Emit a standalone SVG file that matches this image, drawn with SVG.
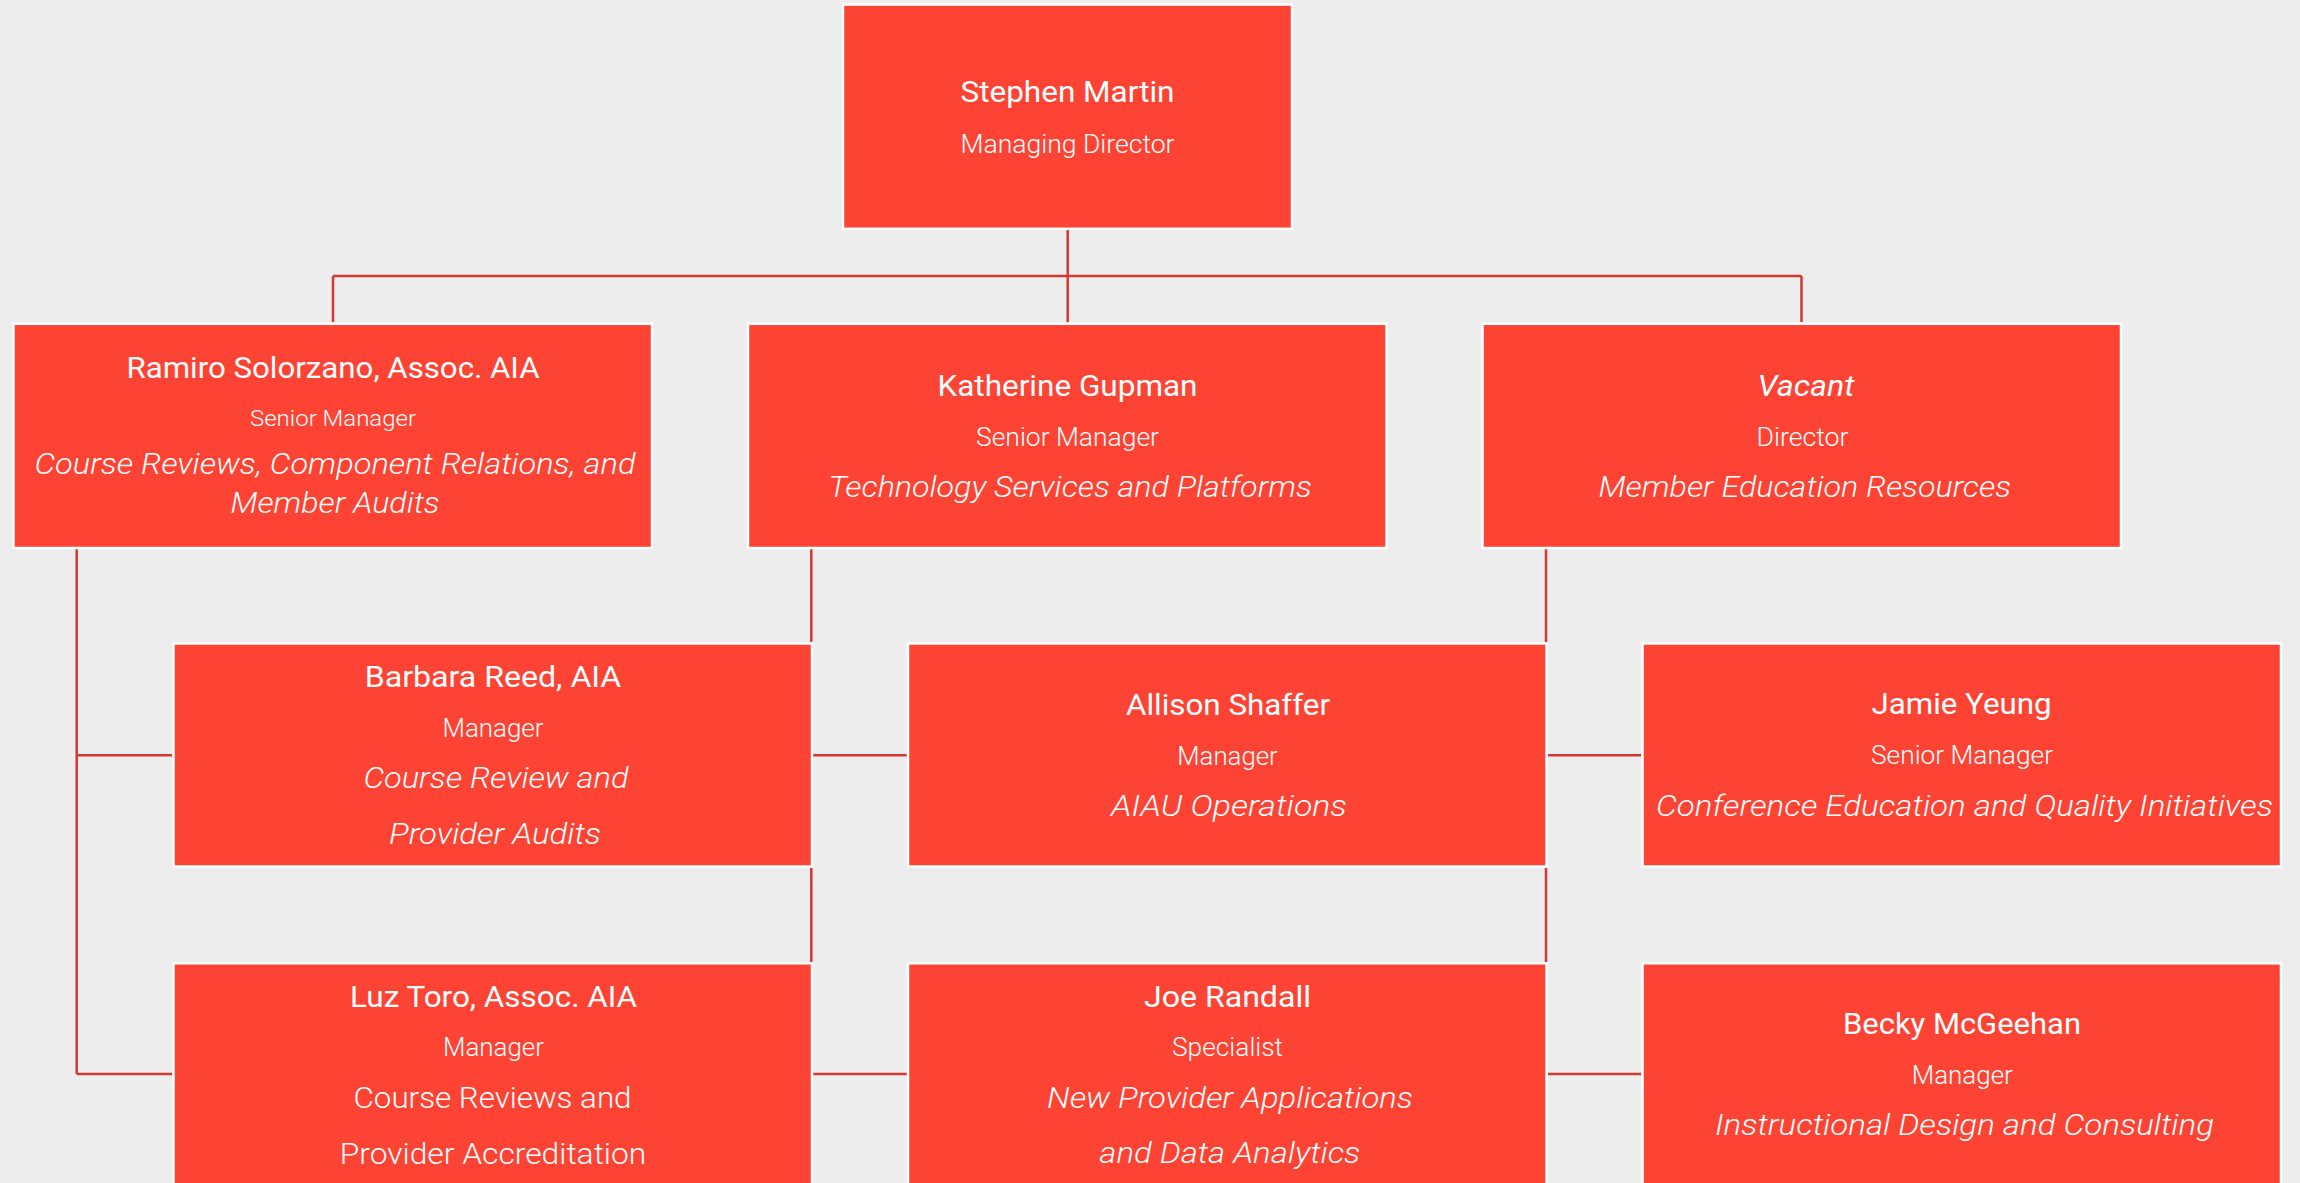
<svg xmlns="http://www.w3.org/2000/svg" width="2300" height="1183" viewBox="0 0 2300 1183">
<style>
.bg{fill:#ededed}
.box{fill:#fd4334;stroke:#ffffff;stroke-width:2.5}
.ln{stroke:#d03a30;stroke-width:2.5;fill:none}
text{fill:#ffffff;text-anchor:middle;font-family:Roboto,"Liberation Sans",Arial,sans-serif}
.nm{font-size:30px;font-weight:400}
.tt{font-size:25px;font-weight:300}
.ts{font-size:22px;font-weight:300}
.dp{font-size:30px;font-weight:300;font-style:italic}
.dn{font-size:30px;font-weight:300}
.nmi{font-size:30px;font-weight:400;font-style:italic}
</style>
<rect class="bg" x="0" y="0" width="2300" height="1183"/>
<g id="connectors">
<path class="ln" d="M1067.7 230 V322 M333 276 H1801.5 M333 276 V322 M1801.5 276 V322"/>
<path class="ln" d="M76.7 549 V1074 M76.7 755.3 H172 M76.7 1074 H172"/>
<path class="ln" d="M811.3 549 V642 M811.3 868 V962 M813 755.3 H907 M813 1074 H907"/>
<path class="ln" d="M1546 549 V642 M1546 868 V962 M1548 755.3 H1641 M1548 1074 H1641"/>
</g>
<g id="stephen-martin">
<rect class="box" x="843" y="4.6" width="449" height="224.2"/>
<text class="nm" x="1067.5" y="101.7" textLength="214" lengthAdjust="spacingAndGlyphs">Stephen Martin</text>
<text class="tt" x="1067.5" y="153.3" textLength="214" lengthAdjust="spacingAndGlyphs">Managing Director</text>
</g>
<g id="ramiro-solorzano">
<rect class="box" x="13.5" y="323.8" width="638.5" height="224.2"/>
<text class="nm" x="333" y="378.3" textLength="413" lengthAdjust="spacingAndGlyphs">Ramiro Solorzano, Assoc. AIA</text>
<text class="ts" x="333" y="425.7" textLength="166" lengthAdjust="spacingAndGlyphs">Senior Manager</text>
<text class="dp" x="335" y="474" textLength="601" lengthAdjust="spacingAndGlyphs">Course Reviews, Component Relations, and</text>
<text class="dp" x="335" y="513.3" textLength="209" lengthAdjust="spacingAndGlyphs">Member Audits</text>
</g>
<g id="katherine-gupman">
<rect class="box" x="748" y="323.8" width="638.5" height="224.2"/>
<text class="nm" x="1067.5" y="396" textLength="260" lengthAdjust="spacingAndGlyphs">Katherine Gupman</text>
<text class="tt" x="1067.5" y="446" textLength="183" lengthAdjust="spacingAndGlyphs">Senior Manager</text>
<text class="dp" x="1070" y="496.7" textLength="483.5" lengthAdjust="spacingAndGlyphs">Technology Services and Platforms</text>
</g>
<g id="vacant">
<rect class="box" x="1482.5" y="323.8" width="638.5" height="224.2"/>
<text class="nmi" x="1806" y="396" textLength="97" lengthAdjust="spacingAndGlyphs">Vacant</text>
<text class="tt" x="1802.5" y="446" textLength="92" lengthAdjust="spacingAndGlyphs">Director</text>
<text class="dp" x="1804.8" y="496.7" textLength="412.5" lengthAdjust="spacingAndGlyphs">Member Education Resources</text>
</g>
<g id="barbara-reed">
<rect class="box" x="173.5" y="643.5" width="638.5" height="223"/>
<text class="nm" x="493" y="686.7" textLength="256.6" lengthAdjust="spacingAndGlyphs">Barbara Reed, AIA</text>
<text class="tt" x="493" y="736.7" textLength="101" lengthAdjust="spacingAndGlyphs">Manager</text>
<text class="dp" x="496" y="788.3" textLength="265" lengthAdjust="spacingAndGlyphs">Course Review and</text>
<text class="dp" x="495" y="844" textLength="212" lengthAdjust="spacingAndGlyphs">Provider Audits</text>
</g>
<g id="allison-shaffer">
<rect class="box" x="908" y="643.5" width="638.5" height="223"/>
<text class="nm" x="1228" y="715" textLength="204" lengthAdjust="spacingAndGlyphs">Allison Shaffer</text>
<text class="tt" x="1227.5" y="765" textLength="100.5" lengthAdjust="spacingAndGlyphs">Manager</text>
<text class="dp" x="1229" y="816" textLength="236" lengthAdjust="spacingAndGlyphs">AIAU Operations</text>
</g>
<g id="jamie-yeung">
<rect class="box" x="1642.5" y="643.5" width="638.5" height="223"/>
<text class="nm" x="1961.5" y="714.3" textLength="180" lengthAdjust="spacingAndGlyphs">Jamie Yeung</text>
<text class="tt" x="1962" y="764" textLength="182" lengthAdjust="spacingAndGlyphs">Senior Manager</text>
<text class="dp" x="1964.5" y="816" textLength="617" lengthAdjust="spacingAndGlyphs">Conference Education and Quality Initiatives</text>
</g>
<g id="luz-toro">
<rect class="box" x="173.5" y="963.3" width="638.5" height="223"/>
<text class="nm" x="493.6" y="1006.7" textLength="287" lengthAdjust="spacingAndGlyphs">Luz Toro, Assoc. AIA</text>
<text class="tt" x="493.5" y="1056" textLength="101" lengthAdjust="spacingAndGlyphs">Manager</text>
<text class="dn" x="492.5" y="1108.3" textLength="278" lengthAdjust="spacingAndGlyphs">Course Reviews and</text>
<text class="dn" x="493" y="1164" textLength="306.5" lengthAdjust="spacingAndGlyphs">Provider Accreditation</text>
</g>
<g id="joe-randall">
<rect class="box" x="908" y="963.3" width="638.5" height="223"/>
<text class="nm" x="1227.5" y="1006.7" textLength="167" lengthAdjust="spacingAndGlyphs">Joe Randall</text>
<text class="tt" x="1227.5" y="1056" textLength="111" lengthAdjust="spacingAndGlyphs">Specialist</text>
<text class="dp" x="1230" y="1107.7" textLength="366" lengthAdjust="spacingAndGlyphs">New Provider Applications</text>
<text class="dp" x="1229.8" y="1163.3" textLength="261" lengthAdjust="spacingAndGlyphs">and Data Analytics</text>
</g>
<g id="becky-mcgeehan">
<rect class="box" x="1642.5" y="963.3" width="638.5" height="223"/>
<text class="nm" x="1962" y="1034" textLength="238" lengthAdjust="spacingAndGlyphs">Becky McGeehan</text>
<text class="tt" x="1962.3" y="1084" textLength="101" lengthAdjust="spacingAndGlyphs">Manager</text>
<text class="dp" x="1964.5" y="1135" textLength="499" lengthAdjust="spacingAndGlyphs">Instructional Design and Consulting</text>
</g>
</svg>
